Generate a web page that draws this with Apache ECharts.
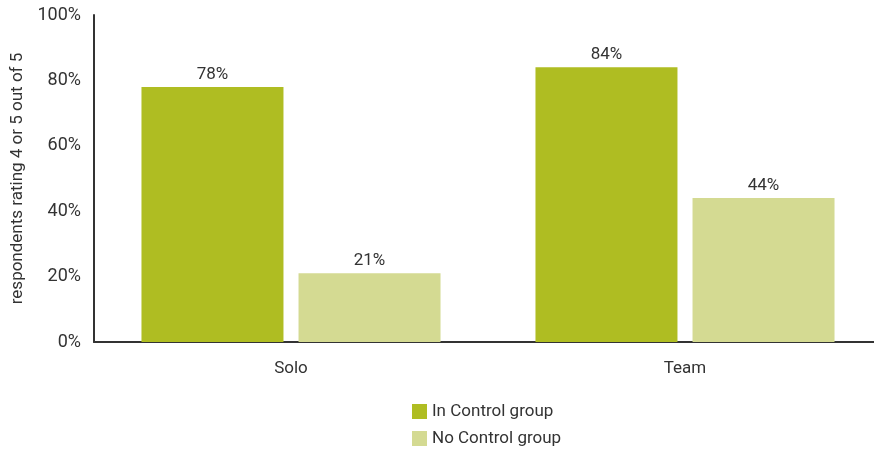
<!DOCTYPE html>
<html><head><meta charset="utf-8">
<script src="https://cdn.jsdelivr.net/npm/echarts@6/dist/echarts.min.js"></script>
<style>html,body{margin:0;padding:0;background:#fff}#c{width:874px;height:452px}</style>
</head><body><div id="c"></div>
<script>
const categories = ["Solo", "Team"];
const inControl = [78, 84];
const noControl = [21, 44];
const yTicks = [0, 20, 40, 60, 80, 100];
const F = '"Roboto","Liberation Sans",sans-serif';
const chart = echarts.init(document.getElementById('c'));
chart.setOption({
  animation: false,
  grid: {left: 94, top: 15, width: 788, height: 327, containLabel: false, outerBoundsMode: 'none'},
  legend: {
    orient: 'vertical', left: 412, top: 403, height: 49, padding: 0, icon: 'rect',
    itemWidth: 15, itemHeight: 15, itemGap: 10,
    textStyle: {fontFamily: F, fontSize: 17, color: '#333'},
    data: ['In Control group', 'No Control group']
  },
  xAxis: {
    type: 'category', data: categories,
    axisLine: {lineStyle: {color: '#333', width: 2}},
    axisTick: {show: false},
    axisLabel: {fontFamily: F, fontSize: 17, color: '#333', margin: 18}
  },
  yAxis: {
    type: 'value', min: 0, max: 100, interval: 20,
    name: 'respondents rating 4 or 5 out of 5', nameLocation: 'middle', nameGap: 65,
    nameTextStyle: {fontFamily: F, fontSize: 17, color: '#333'},
    axisLine: {show: true, lineStyle: {color: '#333', width: 2}},
    axisTick: {show: false},
    splitLine: {show: false},
    axisLabel: {fontFamily: F, fontSize: 18, color: '#333', margin: 13,
      formatter: v => yTicks.includes(v) ? v + '%' : ''}
  },
  series: [
    {name: 'In Control group', type: 'bar', data: inControl, barWidth: 142, barGap: '10.6%',
     itemStyle: {color: '#afbd22'},
     label: {show: true, position: 'top', distance: 4, fontFamily: F, fontSize: 17, color: '#333', formatter: '{c}%'}},
    {name: 'No Control group', type: 'bar', data: noControl, barWidth: 142,
     itemStyle: {color: '#d4da92'},
     label: {show: true, position: 'top', distance: 4, fontFamily: F, fontSize: 17, color: '#333', formatter: '{c}%'}}
  ]
});
</script></body></html>
